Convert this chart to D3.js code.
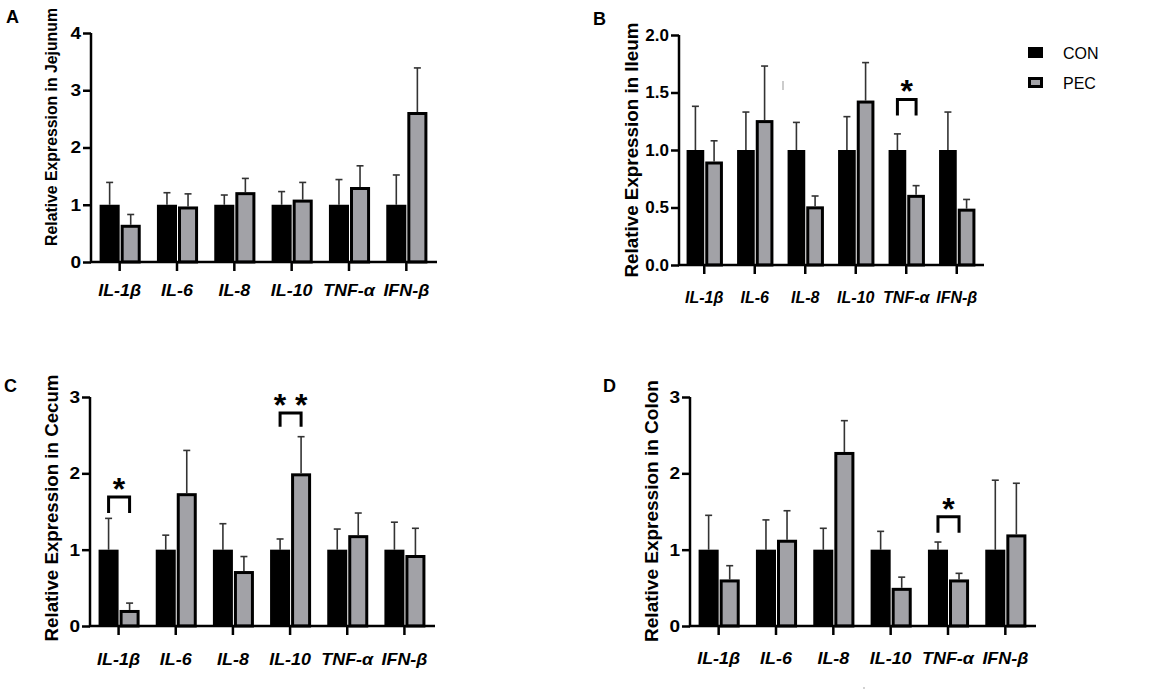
<!DOCTYPE html>
<html>
<head>
<meta charset="utf-8">
<script src="https://cdn.jsdelivr.net/npm/d3@7"></script>
<style>
  body { margin: 0; background: #fff; }
  svg { display: block; font-family: "Liberation Sans", Arial, sans-serif; }
</style>
</head>
<body>
<svg id="chart" width="1170" height="697"></svg>
<script>
// genes on the x axis, and the two groups
var genes = ["IL-1β", "IL-6", "IL-8", "IL-10", "TNF-α", "IFN-β"];
var groups = ["CON", "PEC"];

// jejunum
var jejunumCon = [1, 1, 1, 1, 1, 1];
var jejunumConSd = [0.39, 0.21, 0.17, 0.23, 0.44, 0.52];
var jejunumPec = [0.65, 0.97, 1.22, 1.09, 1.31, 2.62];
var jejunumPecSd = [0.18, 0.22, 0.24, 0.30, 0.37, 0.77];

// ileum
var ileumCon = [1, 1, 1, 1, 1, 1];
var ileumConSd = [0.38, 0.33, 0.24, 0.29, 0.14, 0.33];
var ileumPec = [0.90, 1.26, 0.51, 1.43, 0.61, 0.49];
var ileumPecSd = [0.18, 0.47, 0.09, 0.33, 0.08, 0.08];

// cecum
var cecumCon = [1, 1, 1, 1, 1, 1];
var cecumConSd = [0.41, 0.19, 0.34, 0.14, 0.27, 0.36];
var cecumPec = [0.21, 1.74, 0.72, 2.00, 1.19, 0.93];
var cecumPecSd = [0.09, 0.56, 0.19, 0.48, 0.29, 0.35];

// colon
var colonCon = [1, 1, 1, 1, 1, 1];
var colonConSd = [0.45, 0.39, 0.28, 0.24, 0.10, 0.91];
var colonPec = [0.61, 1.13, 2.28, 0.50, 0.61, 1.20];
var colonPecSd = [0.18, 0.38, 0.41, 0.14, 0.08, 0.67];

// y-axis ticks
var ticksA = [0, 1, 2, 3, 4];
var ticksB = [0, 0.5, 1.0, 1.5, 2.0];
var ticksC = [0, 1, 2, 3];
var ticksD = [0, 1, 2, 3];

// significance marks: [gene, label, bracket top, leg bottom]
var sigB = [["TNF-α", "*", 1.44, 1.30]];
var sigC = [["IL-1β", "*", 1.69, 1.48], ["IL-10", "* *", 2.79, 2.61]];
var sigD = [["TNF-α", "*", 1.43, 1.22]];

var svg = d3.select("#chart");

// layout per panel (tx/ty/tl: centre and length of the y title, sx: text stretch)
var panels = [
  {letter: "A", lx: 6, ly: 23, title: "Relative Expression in Jejunum", con: jejunumCon, conSd: jejunumConSd,
   pec: jejunumPec, pecSd: jejunumPecSd, ticks: ticksA, fmt: d3.format("d"), max: 4,
   x: [91, 435], y: [262, 33], tx: 51, ty: 127, tl: 238, sig: [], labDy: 34, sx: 1.12},
  {letter: "B", lx: 593, ly: 25, title: "Relative Expression in Ileum", con: ileumCon, conSd: ileumConSd,
   pec: ileumPec, pecSd: ileumPecSd, ticks: ticksB, fmt: d3.format(".1f"), max: 2,
   x: [679, 982], y: [265, 35], tx: 631, ty: 150, tl: 255, sig: sigB, labDy: 38, sx: 1.0},
  {letter: "C", lx: 4, ly: 392, title: "Relative Expression in Cecum", con: cecumCon, conSd: cecumConSd,
   pec: cecumPec, pecSd: cecumPecSd, ticks: ticksC, fmt: d3.format("d"), max: 3,
   x: [90, 433], y: [626, 397], tx: 51, ty: 508, tl: 267, sig: sigC, labDy: 39, sx: 1.12},
  {letter: "D", lx: 603, ly: 392, title: "Relative Expression in Colon", con: colonCon, conSd: colonConSd,
   pec: colonPec, pecSd: colonPecSd, ticks: ticksD, fmt: d3.format("d"), max: 3,
   x: [690, 1034], y: [626, 397], tx: 651, ty: 511, tl: 262, sig: sigD, labDy: 38, sx: 1.12}
];

var grey = "#a2a2a7";

panels.forEach(function (p) {
  var g = svg.append("g");
  var x = d3.scaleBand().domain(genes).range(p.x);
  var y = d3.scaleLinear().domain([0, p.max]).range(p.y);
  var w = x.bandwidth() * 0.35;
  var cx = function (d) { return x(d) + x.bandwidth() / 2; };

  // panel letter
  g.append("text").attr("x", p.lx).attr("y", p.ly)
    .attr("font-size", 18).attr("font-weight", "bold").text(p.letter);

  var rows = genes.map(function (gn, i) {
    return {gene: gn, con: p.con[i], conSd: p.conSd[i], pec: p.pec[i], pecSd: p.pecSd[i]};
  });

  // error bars (upper only)
  var err = g.append("g").attr("stroke", "#333").attr("stroke-width", 1.6);
  rows.forEach(function (d) {
    [[cx(d.gene) - w / 2, d.con, d.conSd], [cx(d.gene) + w / 2 + 1, d.pec, d.pecSd]].forEach(function (e) {
      err.append("line").attr("x1", e[0]).attr("x2", e[0]).attr("y1", y(e[1])).attr("y2", y(e[1] + e[2]));
      err.append("line").attr("x1", e[0] - 3.5).attr("x2", e[0] + 3.5).attr("y1", y(e[1] + e[2])).attr("y2", y(e[1] + e[2]));
    });
  });

  // CON bars
  g.selectAll(".con").data(rows).enter().append("rect")
    .attr("x", function (d) { return cx(d.gene) - w; })
    .attr("y", function (d) { return y(d.con); })
    .attr("width", w)
    .attr("height", function (d) { return y(0) - y(d.con); })
    .attr("fill", "#000");

  // PEC bars
  g.selectAll(".pec").data(rows).enter().append("rect")
    .attr("x", function (d) { return cx(d.gene) + 2.5; })
    .attr("y", function (d) { return y(d.pec) + 1.5; })
    .attr("width", w - 3)
    .attr("height", function (d) { return Math.max(0, y(0) - y(d.pec) - 1.5); })
    .attr("fill", grey).attr("stroke", "#000").attr("stroke-width", 3);

  // y axis
  var ya = g.append("g").attr("transform", "translate(" + p.x[0] + ",0)")
    .call(d3.axisLeft(y).tickValues(p.ticks).tickFormat(p.fmt).tickSize(8).tickPadding(2));
  ya.select(".domain").attr("stroke", "#000").attr("stroke-width", 2.5).attr("d", "M0," + y(p.max) + "V" + y(0));
  ya.selectAll(".tick line").attr("stroke", "#000").attr("stroke-width", 2.5);
  ya.selectAll(".tick text").attr("font-size", 17).attr("font-weight", "bold").attr("fill", "#000")
    .attr("font-family", "Liberation Sans, Arial, sans-serif")
    .attr("transform", "scale(" + p.sx + ",1)")
    .attr("x", -10 / p.sx);

  // x axis
  var xa = g.append("g").attr("transform", "translate(0," + y(0) + ")")
    .call(d3.axisBottom(x).tickSize(9).tickFormat(""));
  xa.select(".domain").attr("stroke", "#000").attr("stroke-width", 2.5)
    .attr("d", "M" + (p.x[0] - 1) + ",0H" + (p.x[1] + 2));
  xa.selectAll(".tick line").attr("stroke", "#000").attr("stroke-width", 2.5);
  g.selectAll(".xl").data(genes).enter().append("text")
    .attr("transform", function (d) {
      return "translate(" + cx(d) + "," + (y(0) + p.labDy) + ") scale(" + p.sx + ",1)";
    })
    .attr("text-anchor", "middle")
    .attr("font-size", 16).attr("font-weight", "bold").attr("font-style", "italic")
    .text(function (d) { return d; });

  // y title, font size fitted to the measured length in the figure
  var title = g.append("text")
    .attr("transform", "translate(" + p.tx + "," + p.ty + ") rotate(-90)")
    .attr("text-anchor", "middle").attr("dy", "0.35em")
    .attr("font-size", 18).attr("font-weight", "bold")
    .text(p.title);
  var natural = title.node().getComputedTextLength();
  title.attr("font-size", 18 * p.tl / natural);

  // significance brackets
  p.sig.forEach(function (s) {
    var x0 = cx(s[0]) - w / 2, x1 = cx(s[0]) + w / 2 + 1;
    g.append("path")
      .attr("d", "M" + x0 + "," + y(s[3]) + "V" + y(s[2]) + "H" + x1 + "V" + y(s[3]))
      .attr("fill", "none").attr("stroke", "#000").attr("stroke-width", 3);
    g.append("text").attr("x", (x0 + x1) / 2).attr("y", y(s[2]) + 3)
      .attr("text-anchor", "middle").attr("font-size", 32).attr("font-weight", "bold")
      .text(s[1]);
  });
});

// legend
var legend = svg.append("g").attr("transform", "translate(1028,47)");
groups.forEach(function (gname, i) {
  var row = legend.append("g").attr("transform", "translate(0," + i * 30 + ")");
  if (i === 0) {
    row.append("rect").attr("width", 15).attr("height", 11).attr("fill", "#000");
  } else {
    row.append("rect").attr("x", 1.5).attr("y", 1.5).attr("width", 12).attr("height", 8)
      .attr("fill", grey).attr("stroke", "#000").attr("stroke-width", 3);
  }
  row.append("text").attr("x", 35).attr("y", 11.5).attr("font-size", 16).text(gname);
});

// small stray marks in the original figure
svg.append("line").attr("x1", 783).attr("x2", 783).attr("y1", 81).attr("y2", 90)
  .attr("stroke", "#999").attr("stroke-width", 1);
svg.append("circle").attr("cx", 864).attr("cy", 688).attr("r", 0.8).attr("fill", "#999");
</script>
</body>
</html>
